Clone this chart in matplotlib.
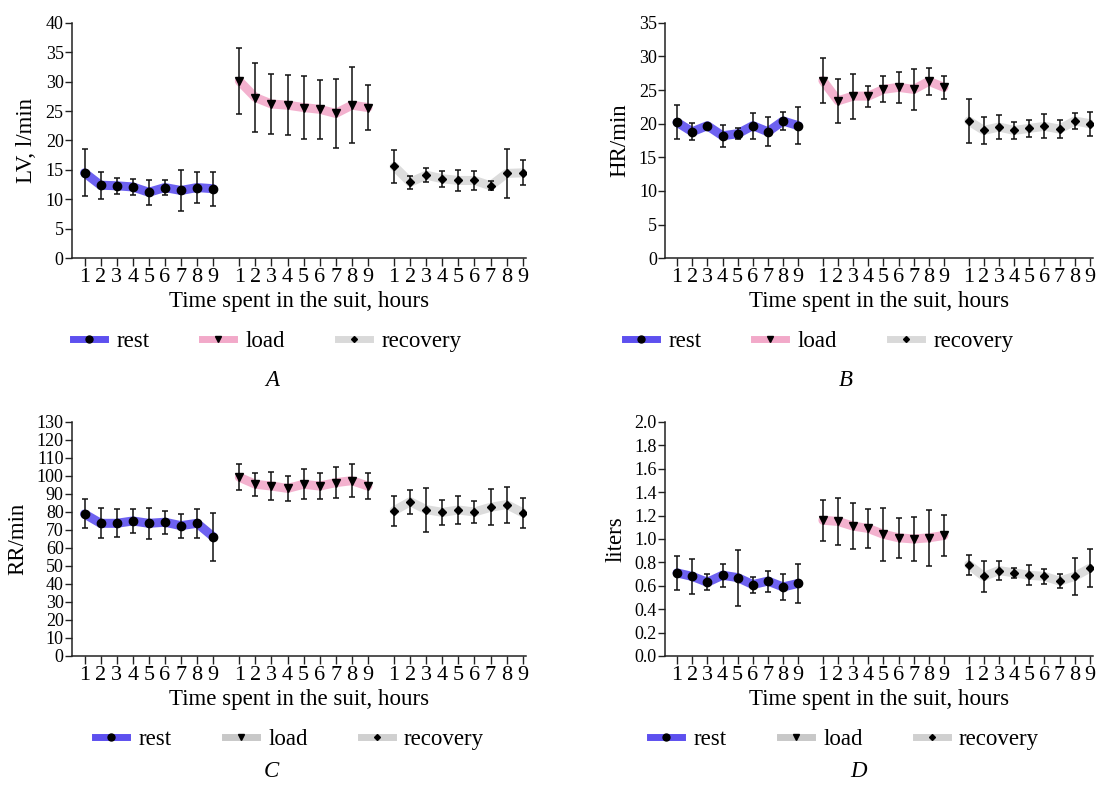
import matplotlib
matplotlib.use('Agg')
from matplotlib import pyplot as plt
from matplotlib.lines import Line2D
import numpy as np

plt.rcParams['font.family'] = 'Liberation Serif'

hours = [1, 2, 3, 4, 5, 6, 7, 8, 9]
phases = ['rest', 'load', 'recovery']

# A: LV, l/min
lv_rest = [14.5, 12.4, 12.3, 12.1, 11.2, 12.0, 11.5, 12.0, 11.8]
lv_rest_sd = [4.0, 2.3, 1.4, 1.4, 2.1, 1.3, 3.5, 2.6, 2.9]
lv_load = [30.1, 27.3, 26.2, 26.0, 25.6, 25.3, 24.6, 26.0, 25.6]
lv_load_sd = [5.6, 5.9, 5.15, 5.15, 5.4, 5.05, 5.85, 6.45, 3.9]
lv_rec = [15.6, 12.9, 14.1, 13.5, 13.2, 13.2, 12.3, 14.4, 14.5]
lv_rec_sd = [2.8, 1.1, 1.15, 1.35, 1.75, 1.55, 0.75, 4.15, 2.1]

# B: HR/min
hr_rest = [20.2, 18.8, 19.7, 18.2, 18.5, 19.7, 18.8, 20.4, 19.7]
hr_rest_sd = [2.55, 1.3, 0.3, 1.6, 0.8, 1.95, 2.15, 1.35, 2.75]
hr_load = [26.4, 23.4, 24.1, 24.1, 25.1, 25.4, 25.1, 26.3, 25.4]
hr_load_sd = [3.35, 3.25, 3.35, 1.55, 1.95, 2.3, 3.0, 2.0, 1.75]
hr_rec = [20.4, 19.0, 19.5, 19.0, 19.3, 19.6, 19.2, 20.4, 20.0]
hr_rec_sd = [3.3, 1.95, 1.75, 1.25, 1.3, 1.8, 1.3, 1.25, 1.8]

# C: RR/min
rr_rest = [78.9, 73.7, 73.7, 75.0, 73.7, 74.3, 72.4, 73.7, 66.3]
rr_rest_sd = [8.05, 8.3, 7.85, 6.9, 8.45, 6.45, 6.75, 8.15, 13.35]
rr_load = [99.3, 95.4, 94.4, 93.1, 95.4, 94.4, 96.3, 97.4, 94.4]
rr_load_sd = [7.1, 6.25, 7.6, 7.0, 8.25, 7.4, 8.8, 9.35, 7.2]
rr_rec = [80.7, 85.7, 81.3, 79.8, 81.1, 80.0, 82.6, 84.1, 79.6]
rr_rec_sd = [8.35, 6.65, 12.3, 6.95, 7.85, 6.3, 10.0, 10.0, 8.35]

# D: liters
lt_rest = [0.71, 0.68, 0.63, 0.69, 0.67, 0.61, 0.64, 0.59, 0.62]
lt_rest_sd = [0.147, 0.148, 0.068, 0.098, 0.24, 0.068, 0.09, 0.11, 0.17]
lt_load = [1.16, 1.15, 1.11, 1.09, 1.04, 1.01, 1.00, 1.01, 1.03]
lt_load_sd = [0.177, 0.2, 0.197, 0.168, 0.225, 0.172, 0.185, 0.237, 0.178]
lt_rec = [0.78, 0.68, 0.73, 0.71, 0.69, 0.68, 0.64, 0.68, 0.75]
lt_rec_sd = [0.086, 0.131, 0.078, 0.04, 0.087, 0.064, 0.059, 0.16, 0.163]

line_colors = ['#5d50ef', '#f2a9c9', '#d9d9d9']
markers = ['o', 'v', 'D']
marker_sizes = [6, 6, 4]
offsets = [0, 9.63, 19.26]

fig = plt.figure(figsize=(10.96, 7.87), dpi=100)


def draw_panel(rect, means, sds, ymax, ystep, ylabel, yfmt, leg_x, leg_colors):
    ax = fig.add_axes(rect)
    xs_all = []
    for i in range(3):
        xs = np.arange(9) + offsets[i]
        xs_all.extend(xs)
        ax.plot(xs, means[i], color=line_colors[i], lw=6.5, alpha=0.9,
                solid_capstyle='round', solid_joinstyle='round', zorder=1)
        ax.errorbar(xs, means[i], yerr=sds[i], fmt='none', ecolor='#111111',
                    elinewidth=1.1, capsize=2.5, capthick=1.1, zorder=2)
        ax.plot(xs, means[i], ls='none', marker=markers[i], color='black',
                ms=marker_sizes[i], zorder=3)
    ax.set_xticks(xs_all)
    ax.set_xticklabels([str(h) for h in hours] * 3)
    ax.set_xlim(-0.78, 27.45)
    ax.set_ylim(0, ymax)
    ax.set_yticks(np.arange(0, ymax + ystep / 2, ystep))
    ax.set_yticklabels([yfmt.format(v) for v in np.arange(0, ymax + ystep / 2, ystep)])
    ax.spines['top'].set_visible(False)
    ax.spines['right'].set_visible(False)
    for s in ['left', 'bottom']:
        ax.spines[s].set_color('#222222')
        ax.spines[s].set_linewidth(1.1)
    ax.tick_params(axis='x', length=6, width=1, labelsize=16, pad=1, color='#222222')
    ax.tick_params(axis='y', length=5, width=1, labelsize=13, pad=1, color='#222222')
    ax.set_xlabel('Time spent in the suit, hours', fontsize=16.5, labelpad=3)
    ax.set_ylabel(ylabel, fontsize=16.5, labelpad=6)
    handles = [Line2D([], [], color=leg_colors[i], lw=5, marker=markers[i],
                      mfc='black', mec='black', ms=marker_sizes[i] - 1)
               for i in range(3)]
    ax.legend(handles, phases, ncol=3, loc='center', bbox_to_anchor=(leg_x, -0.355),
              frameon=False, fontsize=16.5, handlelength=1.4, handletextpad=0.5,
              columnspacing=2.3)
    return ax


grey_leg = ['#5d50ef', '#c8c8c8', '#d0d0d0']
draw_panel([0.0657, 0.672, 0.414, 0.299], [lv_rest, lv_load, lv_rec],
           [lv_rest_sd, lv_load_sd, lv_rec_sd], 40, 5, 'LV, l/min', '{:.0f}', 0.43, line_colors)
draw_panel([0.607, 0.672, 0.390, 0.299], [hr_rest, hr_load, hr_rec],
           [hr_rest_sd, hr_load_sd, hr_rec_sd], 35, 5, 'HR/min', '{:.0f}', 0.36, line_colors)
draw_panel([0.0657, 0.1665, 0.414, 0.2973], [rr_rest, rr_load, rr_rec],
           [rr_rest_sd, rr_load_sd, rr_rec_sd], 130, 10, 'RR/min', '{:.0f}', 0.48, grey_leg)
draw_panel([0.607, 0.1665, 0.390, 0.2973], [lt_rest, lt_load, lt_rec],
           [lt_rest_sd, lt_load_sd, lt_rec_sd], 2.0, 0.2, 'liters', '{:.1f}', 0.42, grey_leg)

# panel letters
fig.text(0.248, 0.517, 'A', fontsize=16.5, style='italic', ha='center', va='center')
fig.text(0.772, 0.517, 'B', fontsize=16.5, style='italic', ha='center', va='center')
fig.text(0.248, 0.020, 'C', fontsize=16.5, style='italic', ha='center', va='center')
fig.text(0.783, 0.020, 'D', fontsize=16.5, style='italic', ha='center', va='center')

fig.savefig('out.png', dpi=100)
